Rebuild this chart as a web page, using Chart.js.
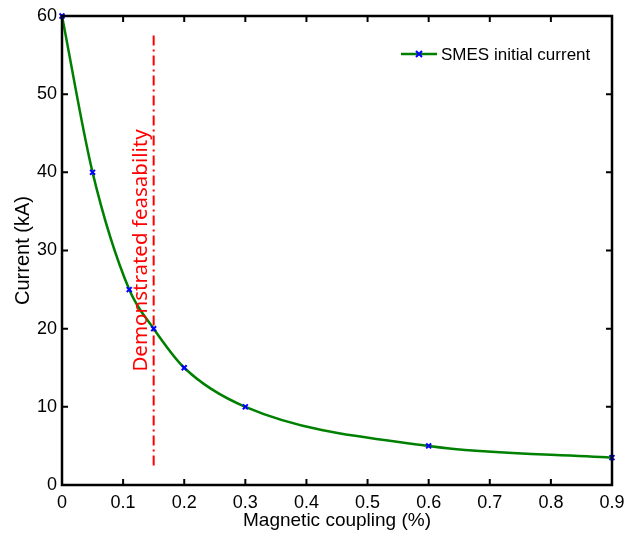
<!doctype html>
<html>
    <head>
        <script src="https://cdn.jsdelivr.net/npm/chart.js"></script>
        <style>
            body {
                margin: 0px;
                background-color: white;
            }
            #wrap {
                width: 633px;
                height: 536px;
            }
        </style>
    </head>
    <body>
        <div id="wrap">
            <canvas id="myChart" width="633" height="536"></canvas>
        </div>

        <script>
        // data
        const coupling = [0, 0.05, 0.11, 0.15, 0.2, 0.3, 0.6, 0.9];
        const current = [60, 40, 25, 20, 15, 10, 5, 3.5];
        const seriesName = 'SMES initial current';

        const feasX = 0.15;
        const feasRange = [2.5, 57.5];
        const feasLabel = 'Demonstrated feasability';

        const xTicks = [0, 0.1, 0.2, 0.3, 0.4, 0.5, 0.6, 0.7, 0.8, 0.9];
        const yTicks = [0, 10, 20, 30, 40, 50, 60];

        const tickFont = { family: 'Liberation Sans', size: 18 };

        // box, inward ticks, text label and legend
        const boxPlugin = {
            id: 'box',
            afterDraw(chart) {
                const ctx = chart.ctx;
                const a = chart.chartArea;
                const xs = chart.scales.x, ys = chart.scales.y;
                ctx.save();
                ctx.strokeStyle = '#000';
                ctx.lineWidth = 2.5;
                ctx.strokeRect(a.left, a.top, a.right - a.left, a.bottom - a.top);
                ctx.lineWidth = 2;
                ctx.beginPath();
                xTicks.forEach(v => {
                    let px = xs.getPixelForValue(v);
                    ctx.moveTo(px, a.bottom); ctx.lineTo(px, a.bottom - 6);
                    ctx.moveTo(px, a.top); ctx.lineTo(px, a.top + 6);
                });
                yTicks.forEach(v => {
                    let py = ys.getPixelForValue(v);
                    ctx.moveTo(a.left, py); ctx.lineTo(a.left + 6, py);
                    ctx.moveTo(a.right, py); ctx.lineTo(a.right - 6, py);
                });
                ctx.stroke();

                // rotated label
                ctx.fillStyle = '#ff0000';
                ctx.font = '20.5px "Noto Sans"';
                ctx.textAlign = 'center';
                ctx.textBaseline = 'middle';
                ctx.translate(xs.getPixelForValue(0.13), ys.getPixelForValue(30));
                ctx.rotate(-Math.PI / 2);
                ctx.fillText(feasLabel, 0, 0);
                ctx.restore();

                // legend
                ctx.save();
                let ly = a.top + 38;
                let lx = a.right - 211;
                ctx.strokeStyle = '#008000';
                ctx.lineWidth = 2.5;
                ctx.beginPath();
                ctx.moveTo(lx, ly); ctx.lineTo(lx + 36, ly);
                ctx.stroke();
                ctx.strokeStyle = '#0000ff';
                ctx.lineWidth = 2;
                ctx.beginPath();
                ctx.moveTo(lx + 15, ly - 3); ctx.lineTo(lx + 21, ly + 3);
                ctx.moveTo(lx + 15, ly + 3); ctx.lineTo(lx + 21, ly - 3);
                ctx.stroke();
                ctx.fillStyle = '#000';
                ctx.font = '17px "Liberation Sans"';
                ctx.textBaseline = 'middle';
                ctx.fillText(seriesName, lx + 40, ly + 1);
                ctx.restore();
            }
        };

        const config = {
            type: 'line',
            data: {
                datasets: [{
                    label: seriesName,
                    data: coupling.map((c, i) => ({ x: c, y: current[i] })),
                    borderColor: '#008000',
                    borderWidth: 2.5,
                    cubicInterpolationMode: 'monotone',
                    pointStyle: 'crossRot',
                    pointRadius: 3.5,
                    pointBorderColor: '#0000ff',
                    pointBorderWidth: 2,
                    pointBackgroundColor: '#0000ff',
                    clip: false
                }, {
                    label: 'feasibility',
                    data: feasRange.map(v => ({ x: feasX, y: v })),
                    borderColor: '#ff0000',
                    borderWidth: 2,
                    borderDash: [10, 4, 2, 4],
                    pointRadius: 0
                }]
            },
            options: {
                responsive: false,
                animation: false,
                layout: { padding: { top: 16, right: 21, left: 0, bottom: 0 } },
                plugins: {
                    legend: { display: false },
                    tooltip: { enabled: false }
                },
                scales: {
                    x: {
                        type: 'linear',
                        min: 0,
                        max: 0.9,
                        afterBuildTicks: s => { s.ticks = xTicks.map(v => ({ value: v })); },
                        afterFit: s => { s.height = 51; },
                        grid: { display: false, drawTicks: false },
                        border: { display: false },
                        ticks: {
                            color: '#000',
                            font: tickFont,
                            padding: 7,
                            maxRotation: 0,
                            callback: v => String(v)
                        },
                        title: {
                            display: true,
                            text: 'Magnetic coupling (%)',
                            color: '#000',
                            font: { family: 'Liberation Sans', size: 19 },
                            padding: { top: 0, bottom: 4 }
                        }
                    },
                    y: {
                        min: 0,
                        max: 60,
                        afterBuildTicks: s => { s.ticks = yTicks.map(v => ({ value: v })); },
                        afterFit: s => { s.width = 62; },
                        grid: { display: false, drawTicks: false },
                        border: { display: false },
                        ticks: {
                            color: '#000',
                            font: tickFont,
                            padding: 5
                        },
                        title: {
                            display: true,
                            text: 'Current (kA)',
                            color: '#000',
                            font: { family: 'Liberation Sans', size: 20 },
                            padding: { top: 11, bottom: 0 }
                        }
                    }
                }
            },
            plugins: [boxPlugin]
        };

        const myChart = new Chart(document.getElementById('myChart'), config);
        </script>
    </body>
</html>
